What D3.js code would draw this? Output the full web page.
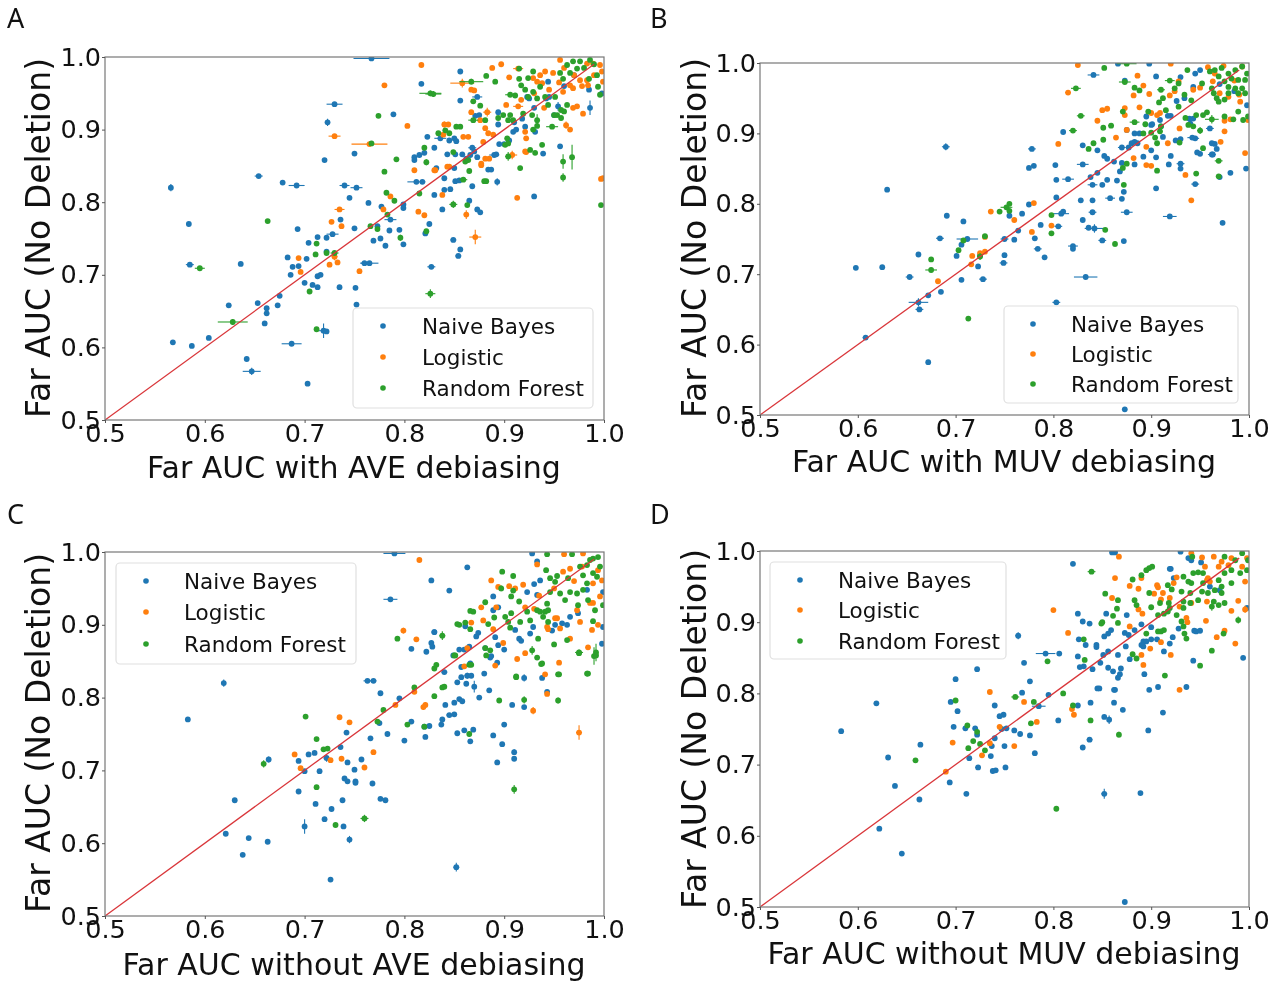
<!DOCTYPE html>
<html><head><meta charset="utf-8">
<script src="https://cdn.jsdelivr.net/npm/d3@7/dist/d3.min.js"></script>
<style>html,body{margin:0;padding:0;background:#fff}svg{display:block;filter:blur(0.4px)}text{font-family:"DejaVu Sans";fill:#111}</style>
</head><body><svg id="c" width="1283" height="985"></svg>
<script>
// each point: [x, y, xError, yError]
const categories = ["Naive Bayes","Logistic","Random Forest"];
const tickValues = [0.5,0.6,0.7,0.8,0.9,1.0];
const tickLabels = ["0.5","0.6","0.7","0.8","0.9","1.0"];
const diagonal = [0.5,0.99];

const aNaive = [[.767,.998,.018,0],[.856,.98],[.817,.963],[.73,.935,.008,.002],[.789,.921],[.723,.91,.002,.005],[.856,.94],[.873,.945,.005,.001],[.75,.867],[.72,.858],[.654,.836,.004,.001],[.678,.827],[.692,.823,.008,.001],[.566,.82,.002,.005],[.74,.823,.005,.003],[.752,.82,.006,.001],[.745,.806],[.584,.77],[.693,.763],[.736,.776],[.764,.799],[.777,.794],[.799,.797],[.799,.792],[.786,.776,.006,.003],[.785,.761],[.795,.762],[.75,.764],[.773,.767],[.776,.75],[.769,.747],[.781,.74],[.799,.742],[.821,.757],[.704,.744],[.713,.752],[.722,.751],[.728,.756,.006,.001],[.722,.732],[.683,.724],[.702,.722],[.694,.712],[.688,.711],[.636,.715],[.585,.714,.004,.001],[.76,.716,.004,.001],[.765,.716,.009,.003],[.7,.689],[.686,.7],[.713,.698],[.716,.7],[.708,.686],[.713,.683],[.735,.683],[.751,.682],[.675,.671],[.624,.658],[.653,.661],[.662,.654],[.662,.647],[.66,.633],[.673,.658],[.752,.659],[.719,.623,.005,.01],[.722,.622],[.568,.607],[.587,.602],[.604,.613],[.687,.605,.01,.002],[.642,.584],[.647,.567,.009,.005],[.703,.55],[.823,.89],[.83,.875],[.81,.862],[.815,.865],[.82,.868],[.81,.858],[.845,.885],[.85,.888],[.852,.884],[.843,.866],[.851,.866],[.858,.866],[.862,.86],[.866,.865],[.868,.875,.004,.002],[.873,.862],[.89,.865,.005,.001],[.884,.845],[.832,.847],[.84,.833],[.812,.828,.009,.001],[.818,.828],[.85,.847],[.851,.829],[.855,.83],[.868,.822],[.84,.817,.002,.003],[.846,.818],[.83,.81],[.893,.828,.002,.005],[.93,.808],[.865,.802],[.873,.79],[.876,.786],[.838,.79],[.825,.77],[.849,.748,.003,.001],[.856,.735],[.854,.726,.003,.002],[.827,.711,.004,.001],[.875,.92],[.871,.919],[.894,.924],[.894,.907],[.909,.897],[.912,.9],[.921,.904],[.923,.945],[.925,.943],[.944,.966],[.954,.932,.002,.006],[.986,.93,.002,.01],[.998,.95],[.945,.945],[.942,.943],[.931,.897],[.836,.888,.006,.001],[.87,.87],[.892,.866],[.939,.867],[.956,.877],[.887,.845],[.895,.88],[.9,.88],[.905,.885],[.918,.915],[.93,.93],[.96,.96],[.97,.975],[.985,.955],[.95,.92],[.91,.91]];
const aLogistic = [[.817,.989],[.78,.961],[.803,.905],[.73,.891,.006,.002],[.765,.88,.018,.001],[.858,.964,.012,.006],[.87,.954],[.84,.907,.002,.004],[.859,.89],[.913,.806],[.997,.832],[.845,.849],[.81,.844],[.83,.844],[.877,.851],[.885,.86],[.838,.81],[.779,.79],[.735,.79,.005,.003],[.727,.773],[.737,.767],[.862,.783,.002,.006],[.871,.752,.006,.01],[.814,.787],[.82,.782],[.696,.704],[.694,.723],[.73,.725,.003,.005],[.725,.714],[.733,.717],[.755,.705],[.786,.808],[.908,.865,.005,.006],[.922,.869],[.888,.985],[.897,.99],[.914,.984,.005,.002],[.905,.972],[.867,.955],[.883,.924,.004,.006],[.867,.924],[.902,.934],[.914,.932,.005,.002],[.917,.941],[.929,.971],[.936,.975],[.941,.98],[.933,.966],[.938,.964],[.949,.978],[.956,.996],[.983,.991],[.989,.991],[.983,.968],[.976,.968],[.969,.957],[.966,.961],[.959,.952],[.969,.93],[.973,.932],[.979,.922],[.998,.98],[.999,.966],[.996,.989],[.984,.961],[.962,.906,.002,.005],[.966,.9],[.921,.897],[.922,.888],[.876,.913],[.881,.902],[.884,.895],[.889,.893],[.864,.89],[.844,.907],[.839,.893],[.879,.883],[.921,.87],[.831,.844],[.843,.849],[.877,.853],[.881,.86],[.999,.833],[.93,.95],[.945,.955],[.955,.965],[.97,.975],[.978,.96],[.99,.975],[.96,.985],[.94,.93]];
const aForest = [[.867,.966,.012,.004],[.882,.974],[.891,.966],[.829,.949,.008,.004],[.915,.984],[.869,.939],[.876,.933],[.929,.98],[.915,.97],[.906,.948,.005,.001],[.911,.947],[.917,.961],[.924,.971],[.921,.955],[.929,.952],[.936,.959],[.924,.945],[.933,.943],[.941,.945],[.956,.978],[.963,.989],[.969,.994],[.973,.984],[.959,.97],[.966,.978],[.976,.994],[.986,.996],[.994,.959],[.993,.975],[.996,.948],[.957,.927],[.953,.92],[.963,.934],[.951,.945],[.944,.934],[.95,.92],[.957,.916],[.96,.925],[.948,.904,.006,.002],[.933,.913,.002,.008],[.928,.92],[.933,.905],[.929,.9],[.906,.92],[.904,.913],[.894,.916],[.909,.913],[.919,.922],[.899,.92],[.881,.913],[.869,.913,.005,.001],[.856,.904],[.841,.899],[.834,.895],[.903,.888],[.901,.879],[.904,.881],[.938,.879],[.926,.872],[.931,.868],[.916,.847],[.861,.856],[.864,.858],[.865,.843],[.859,.831,.004,.002],[.882,.829],[.959,.856,.002,.01],[.968,.862,.002,.017],[.959,.834,.002,.006],[.904,.863,.003,.006],[.849,.869],[.595,.709,.005,.002],[.663,.774],[.712,.743],[.711,.728],[.705,.677],[.628,.635,.015,.004],[.712,.625],[.826,.674,.005,.006],[.774,.919],[.767,.881],[.79,.802,.002,.002],[.782,.813],[.78,.842],[.792,.859],[.815,.812],[.82,.875],[.822,.855,.001,.004],[.826,.95,.011,.004],[.845,.895],[.852,.904],[.849,.797,.004,.005],[.863,.796],[.88,.829],[.796,.751,.002,.004],[.822,.76],[.766,.767],[.773,.763],[.783,.783],[.73,.73,.004,.003],[.722,.73],[.997,.796],[.98,.985],[.985,.97],[.99,.99]];

const bNaive = [[.69,.881,.004,.005],[.63,.82],[.778,.878,.004,.001],[.775,.851],[.78,.854],[.802,.855],[.803,.834],[.815,.835,.006,.001],[.803,.809],[.775,.799],[.768,.786],[.691,.783],[.708,.775],[.684,.751,.004,.001],[.712,.75,.011,.002],[.706,.742],[.701,.726],[.662,.728],[.598,.709],[.625,.71],[.653,.696,.004,.001],[.706,.692],[.728,.693,.004,.001],[.672,.67],[.685,.675],[.662,.66,.01,.006],[.663,.65,.004,.001],[.608,.61,.003,.001],[.672,.575],[.803,.66,.004,.001],[.833,.696,.012,.002],[.872,.747],[.873,.508],[.875,.788,.006,.001],[.919,.782,.007,.003],[.973,.773],[.842,.765,.01,.006],[.836,.766],[.85,.748,.004,.001],[.82,.74,.005,.001],[.82,.736],[.784,.736,.004,.001],[.791,.724],[.781,.751],[.76,.749],[.75,.75,.004,.001],[.75,.727],[.749,.716,.004,.001],[.725,.727],[.723,.711],[.764,.762],[.755,.783],[.787,.77],[.808,.786,.008,.003],[.81,.789],[.805,.768,.004,.001],[.84,.788,.004,.001],[.83,.777],[.828,.805],[.84,.805],[.858,.808,.005,.001],[.87,.807],[.872,.817],[.84,.827,.005,.001],[.85,.827],[.838,.838],[.845,.844],[.855,.834],[.865,.833],[.83,.856,.006,.001],[.868,.846],[.862,.86],[.87,.858],[.945,.828,.004,.001],[.905,.822],[.93,.85],[.93,.857,.004,.001],[.918,.856],[.92,.868],[.83,.883],[.845,.876],[.852,.868],[.855,.864],[.87,.88,.004,.001],[.877,.88],[.883,.856],[.886,.886],[.888,.9],[.875,.905],[.81,.902],[.981,.844],[.997,.85],[.97,.838],[.967,.878],[.963,.87],[.95,.871],[.965,.885],[.945,.893,.004,.001],[.9,.876],[.892,.867],[.905,.866],[.9,.912],[.91,.91],[.92,.925],[.912,.895],[.925,.89],[.93,.892],[.841,.983,.006,.001],[.873,.975],[.905,.981],[.93,.98],[.945,.985],[.95,.99],[.866,.999],[.898,.999],[.895,.924],[.901,.913],[.909,.919],[.917,.925],[.926,.946],[.934,.95],[.943,.966],[.883,.9],[.883,.888],[.88,.886],[.942,.894,.005,.001],[.962,.886],[.962,.87,.004,.001],[.947,.873],[.94,.914],[.939,.921],[.943,.921],[.96,.907,.004,.002],[.998,.94],[.97,.97],[.985,.96]];
const bLogistic = [[.825,.997],[.886,.982],[.92,.999],[.892,.968],[.898,.956],[.882,.954],[.924,.96],[.919,.954],[.928,.974],[.943,.962],[.958,.994],[.974,.996],[.963,.974],[.97,.957],[.979,.952],[.991,.945],[.993,.995],[.85,.933],[.855,.935],[.888,.937],[.873,.936],[.873,.926],[.845,.918],[.875,.905],[.864,.894],[.9,.929],[.906,.926],[.909,.929],[.975,.918],[.981,.92],[.929,.907],[.975,.903],[.971,.888],[.996,.872],[.895,.881],[.882,.865],[.895,.855],[.9,.854],[.935,.841],[.917,.886],[.941,.805],[.999,.919],[.815,.958,.003,.001],[.805,.885],[.736,.789],[.78,.801],[.76,.777],[.778,.76],[.798,.769],[.73,.753],[.725,.73],[.73,.732],[.717,.726],[.716,.714],[.682,.69],[.95,.965],[.965,.985],[.985,.975],[.99,.955]];
const bForest = [[.852,.993],[.875,.999,.01,.001],[.823,.964,.005,.001],[.873,.973,.006,.002],[.883,.965],[.888,.961],[.91,.962,.004,.001],[.919,.975,.005,.001],[.928,.971],[.937,.99],[.924,.964],[.908,.944],[.912,.95],[.915,.933],[.934,.955],[.941,.947],[.928,.938],[.952,.971],[.96,.988],[.965,.99],[.972,.993],[.979,.985],[.986,.99],[.993,.995],[.998,.985],[.996,.976],[.989,.976],[.982,.978],[.975,.974],[.969,.981],[.962,.964],[.969,.945],[.979,.957],[.989,.957],[.996,.957],[.986,.964],[.993,.964],[.979,.966],[.975,.948],[.967,.95],[.964,.957],[.883,.916,.005,.002],[.894,.913],[.892,.9],[.9,.901],[.909,.903],[.904,.894],[.906,.886],[.91,.91],[.929,.887],[.935,.922],[.938,.912],[.943,.91],[.95,.904,.003,.005],[.946,.926],[.953,.926],[.957,.93],[.962,.92,.007,.006],[.975,.924],[.984,.92],[.989,.931],[.994,.919],[.999,.924],[.859,.911,.003,.001],[.851,.908,.002,.002],[.851,.891],[.836,.878],[.841,.886],[.828,.925,.004,.001],[.871,.931],[.897,.931],[.953,.879],[.969,.861,.004,.001],[.969,.839],[.946,.843],[.906,.847],[.871,.851],[.875,.857],[.872,.827],[.853,.763],[.863,.743,.001,.004],[.798,.758],[.798,.784],[.755,.8],[.752,.795,.006,.002],[.755,.79],[.745,.789],[.73,.754],[.708,.748],[.703,.734],[.675,.721],[.675,.706,.006,.001],[.725,.725,.003,.005],[.713,.637],[.82,.904,.004,.001]];

const cNaive = [[.79,.998,.011,.001],[.863,.979],[.827,.961],[.845,.947],[.786,.935,.007,.001],[.619,.82,.002,.005],[.583,.77],[.807,.867],[.822,.863],[.827,.875],[.828,.87],[.83,.89],[.763,.823,.004,.001],[.769,.823,.003,.001],[.776,.806],[.795,.799],[.807,.767],[.8,.741],[.742,.752],[.783,.75],[.766,.744],[.736,.732],[.775,.765],[.704,.722],[.694,.713],[.71,.724],[.722,.717,.003,.005],[.664,.715,.002,.004],[.7,.699],[.715,.699],[.75,.701],[.743,.711],[.757,.715],[.74,.689],[.743,.685],[.751,.685],[.751,.683],[.768,.682],[.694,.671],[.711,.654],[.727,.647],[.738,.659],[.776,.661],[.781,.659],[.63,.659],[.72,.633],[.739,.623],[.7,.623,.001,.01],[.621,.613],[.644,.607],[.663,.602,.002,.001],[.745,.605,.001,.005],[.638,.584],[.852,.567,.003,.006],[.726,.55],[.82,.76],[.825,.761],[.837,.763],[.838,.77],[.845,.776,.003,.001],[.85,.777],[.821,.746],[.841,.79],[.853,.751],[.86,.755],[.866,.74],[.869,.756],[.889,.748],[.898,.736],[.9,.763],[.893,.711],[.91,.725,.002,.004],[.91,.716],[.84,.835,.003,.001],[.849,.858],[.855,.866],[.86,.866],[.865,.87],[.857,.842],[.866,.847],[.853,.821],[.857,.828],[.863,.83,.003,.004],[.867,.83],[.862,.819],[.87,.815,.001,.008],[.875,.8],[.885,.81],[.88,.833],[.85,.793],[.855,.798],[.858,.795],[.908,.79],[.92,.787],[.92,.827,.002,.005],[.938,.827],[.943,.808],[.886,.855],[.893,.848],[.889,.939],[.928,.998],[.933,.987],[.936,.961],[.93,.956],[.923,.945],[.933,.941],[.889,.92],[.894,.924],[.83,.89],[.874,.889],[.872,.884],[.861,.898],[.891,.883],[.915,.881],[.917,.878],[.911,.893],[.929,.897],[.926,.888],[.9,.866],[.894,.872],[.887,.857],[.881,.868],[.948,.892],[.951,.9],[.958,.902],[.966,.911],[.974,.916],[.983,.948],[.999,.945],[.998,.874],[.999,.897],[.963,.9]];
const cLogistic = [[.933,.983],[.887,.961],[.894,.952],[.905,.953],[.911,.95],[.919,.955],[.877,.924],[.892,.924],[.879,.906],[.867,.903],[.889,.894],[.899,.875],[.863,.868],[.86,.843],[.891,.844],[.913,.853],[.921,.861],[.921,.924],[.93,.922],[.943,.897],[.944,.894],[.953,.909],[.959,.973],[.966,.977],[.978,.98],[.989,.957],[.994,.975],[.979,.998],[.96,.997],[.998,.961],[.996,.939],[.989,.93],[.986,.93],[.973,.92],[.976,.904],[.988,.893],[.994,.9],[.956,.895],[.951,.909],[.966,.881],[.984,.869],[.955,.848],[.941,.832],[.815,.989],[.799,.892,.002,.004],[.812,.88],[.735,.773],[.745,.766],[.69,.722],[.696,.703],[.769,.725],[.76,.704],[.737,.716],[.726,.714],[.81,.808],[.819,.787,.001,.004],[.821,.79,.001,.004],[.791,.79],[.929,.782,.002,.005],[.975,.752,.003,.01],[.943,.805,.002,.002],[.935,.94],[.95,.95],[.97,.96]];
const cForest = [[.701,.774],[.712,.743],[.719,.729],[.723,.73],[.712,.677],[.659,.709,.002,.005],[.76,.634,.004,.005],[.731,.625],[.91,.674,.002,.006],[.793,.881,.002,.002],[.838,.885,.003,.006],[.779,.783],[.773,.767],[.803,.763],[.81,.814],[.83,.802],[.838,.814],[.82,.76],[.865,.75,.002,.004],[.895,.796,.002,.002],[.92,.797,.001,.005],[.954,.796,.001,.004],[.954,.832,.001,.003],[.983,.833,.001,.004],[.975,.862,.004,.004],[.99,.857,.001,.012],[.992,.862,.001,.012],[.938,.847,.001,.003],[.912,.828],[.85,.858],[.865,.845],[.83,.84],[.855,.9,.003,.002],[.898,.973],[.909,.967],[.897,.95,.001,.004],[.909,.947],[.907,.939],[.915,.932],[.881,.931],[.866,.919],[.869,.918],[.853,.901],[.861,.903],[.866,.894],[.89,.91],[.884,.901],[.901,.911],[.904,.904],[.907,.916],[.906,.896],[.916,.904],[.926,.906],[.923,.918],[.933,.92],[.936,.918],[.941,.918],[.944,.92],[.939,.911],[.944,.904],[.943,.929],[.946,.945],[.951,.959],[.946,.964],[.953,.967],[.964,.964],[.966,.945],[.956,.943],[.961,.934],[.973,.943],[.979,.948],[.984,.934],[.974,.927],[.983,.957],[.986,.989],[.989,.991],[.994,.993],[.983,.982],[.976,.98],[.996,.98],[.993,.966],[.989,.971],[.979,.968],[.943,.997],[.942,.975],[.968,.997],[.934,.881],[.928,.865,.001,.006],[.881,.868],[.886,.865],[.882,.858],[.851,.858,.002,.002],[.832,.845],[.867,.845],[.933,.855],[.937,.846],[.912,.829],[.955,.832],[.984,.833],[.963,.879],[.95,.873],[.989,.905],[.975,.861],[.992,.858],[.999,.927],[.991,.92],[.84,.815]];

const dNaive = [[.583,.747],[.619,.786],[.631,.71],[.638,.67],[.664,.728],[.663,.651,.002,.001],[.622,.61],[.645,.575],[.694,.675],[.711,.659],[.695,.788],[.7,.82],[.702,.775],[.698,.753],[.71,.751],[.72,.751],[.74,.783],[.722,.834],[.77,.843],[.776,.817],[.768,.801],[.795,.798],[.785,.782,.007,.003],[.745,.768],[.749,.77],[.747,.75],[.76,.748],[.766,.743],[.752,.751],[.776,.741],[.74,.737],[.737,.726],[.736,.712],[.75,.726],[.781,.716],[.714,.709],[.723,.696,.003,.002],[.738,.691],[.741,.692],[.751,.696],[.722,.742],[.764,.881,.003,.005],[.792,.856,.01,.002],[.806,.856,.002,.001],[.805,.762],[.825,.783],[.838,.787],[.83,.724],[.837,.735,.003,.001],[.852,.767],[.857,.763,.001,.006],[.871,.777],[.862,.787],[.863,.805],[.845,.807],[.852,.659,.003,.007],[.889,.66],[.873,.507],[.897,.748],[.912,.773],[.82,.982],[.86,.998],[.863,.998],[.92,.975],[.938,.99],[.93,.999],[.919,.975],[.923,.962],[.941,.987],[.951,.984],[.825,.912],[.83,.901],[.837,.898],[.875,.91],[.854,.912],[.89,.897],[.9,.893],[.883,.889],[.873,.885],[.877,.882],[.859,.889],[.856,.884],[.852,.88],[.826,.876],[.833,.868],[.844,.868],[.844,.865],[.856,.859],[.851,.854],[.874,.866],[.892,.873],[.895,.873],[.89,.868],[.892,.866],[.9,.876],[.906,.876],[.922,.879],[.919,.87],[.913,.859],[.928,.891],[.944,.888],[.946,.887],[.95,.888],[.943,.846],[.994,.85],[.825,.852],[.827,.837],[.831,.838],[.84,.834],[.848,.843],[.856,.836],[.866,.854],[.878,.848],[.869,.835],[.861,.831],[.868,.827],[.866,.822],[.893,.827],[.898,.805],[.907,.809],[.936,.809],[.847,.807],[.862,.805],[.96,.95],[.97,.945],[.998,.92]];
const dLogistic = [[.867,.992],[.863,.962],[.878,.951],[.887,.947],[.89,.962],[.906,.952],[.907,.949],[.903,.94],[.912,.941],[.91,.932],[.919,.934],[.923,.955],[.926,.963],[.941,.997],[.952,.991],[.955,.978],[.964,.992],[.972,.985],[.982,.99],[.998,.99],[.993,.978],[.996,.957],[.957,.959],[.958,.962],[.96,.957],[.969,.978],[.979,.98],[.86,.934],[.887,.918],[.891,.912],[.878,.894],[.91,.872],[.899,.863],[.89,.854],[.892,.84],[.92,.854],[.936,.906],[.937,.9],[.929,.922],[.956,.902],[.967,.879],[.975,.888],[.986,.87],[.989,.93],[.982,.916],[.996,.918,.001,.005],[.957,.929],[.941,.927],[.929,.805],[.735,.802],[.77,.788],[.783,.76],[.745,.753],[.697,.731],[.735,.73],[.727,.713],[.76,.726],[.69,.69],[.819,.778],[.821,.77],[.8,.917],[.815,.885]];
const dForest = [[.839,.971,.004,.001],[.881,.96],[.89,.966],[.895,.973],[.898,.976],[.901,.978],[.853,.94],[.866,.931],[.883,.931],[.885,.924],[.898,.941],[.865,.919],[.861,.909],[.85,.9],[.849,.898],[.866,.899],[.9,.921],[.909,.927],[.917,.952],[.921,.946],[.918,.927],[.919,.92],[.931,.943],[.933,.929],[.907,.91],[.913,.912],[.917,.915],[.926,.91],[.931,.901],[.933,.894],[.895,.884],[.907,.887],[.91,.887],[.913,.889],[.936,.877],[.934,.884],[.942,.992],[.943,.969],[.948,.97],[.953,.969],[.938,.957],[.933,.964],[.941,.955],[.953,.955],[.952,.943],[.94,.941],[.948,.931],[.94,.927],[.933,.92],[.962,.922,.002,.006],[.974,.884],[.989,.903,.001,.005],[.962,.86],[.95,.839],[.914,.825],[.831,.876],[.881,.855],[.885,.849],[.832,.847],[.965,.945],[.972,.95],[.982,.955],[.993,.997],[.999,.987],[.975,.992],[.986,.987],[.998,.973],[.991,.969],[.982,.973],[.975,.969],[.969,.959],[.972,.941],[.958,.941],[.975,.927],[.969,.924],[.964,.929],[.7,.79],[.761,.795,.004,.002],[.78,.788],[.81,.8],[.712,.755],[.722,.746],[.718,.733],[.725,.729],[.713,.723],[.73,.72],[.777,.758],[.659,.706],[.803,.638],[.794,.845],[.867,.742,.001,.004],[.82,.783],[.838,.762]];

const colors = ["#1f77b4","#ff7f0e","#2ca02c"];
const panels = [
 {letter:"A",lx:7,ly:28,left:105,right:604,top:57,bottom:420,xlabel:"Far AUC with AVE debiasing",xcx:354,xby:478,ylx:50,yc:238,series:[aNaive,aLogistic,aForest],
  box:[353,308,240,100],mx:383,my:[326,357,388],tx:422},
 {letter:"B",lx:650,ly:28,left:760,right:1249,top:63,bottom:415,xlabel:"Far AUC with MUV debiasing",xcx:1004,xby:472,ylx:706,yc:238,series:[bNaive,bLogistic,bForest],
  box:[1004,306,234,97],mx:1033,my:[324,354,384],tx:1071},
 {letter:"C",lx:7,ly:524,left:105,right:604,top:552,bottom:916,xlabel:"Far AUC without AVE debiasing",xcx:354,xby:975,ylx:50,yc:733,series:[cNaive,cLogistic,cForest],
  box:[116,563,240,101],mx:146,my:[581,612,644],tx:184},
 {letter:"D",lx:650,ly:524,left:760,right:1249,top:551,bottom:907,xlabel:"Far AUC without MUV debiasing",xcx:1004,xby:964,ylx:706,yc:729,series:[dNaive,dLogistic,dForest],
  box:[770,562,236,97],mx:800,my:[580,610,641],tx:838}
];

const svg = d3.select("#c");
panels.forEach((p,pi)=>{
  const x = d3.scaleLinear().domain([0.5,1]).range([p.left,p.right]);
  const y = d3.scaleLinear().domain([0.5,1]).range([p.bottom,p.top]);
  const g = svg.append("g");
  const clipId = "clip"+pi;
  g.append("clipPath").attr("id",clipId).append("rect")
    .attr("x",p.left).attr("y",p.top).attr("width",p.right-p.left).attr("height",p.bottom-p.top);
  const plot = g.append("g").attr("clip-path",`url(#${clipId})`);
  p.series.forEach((s,si)=>{
    const c = plot.append("g");
    c.selectAll("line.xe").data(s.filter(d=>d[2])).enter().append("line").attr("class","xe")
      .attr("x1",d=>x(d[0]-d[2])).attr("x2",d=>x(d[0]+d[2])).attr("y1",d=>y(d[1])).attr("y2",d=>y(d[1]))
      .attr("stroke",colors[si]).attr("stroke-width",1.1);
    c.selectAll("line.ye").data(s.filter(d=>d[3])).enter().append("line").attr("class","ye")
      .attr("x1",d=>x(d[0])).attr("x2",d=>x(d[0])).attr("y1",d=>y(d[1]-d[3])).attr("y2",d=>y(d[1]+d[3]))
      .attr("stroke",colors[si]).attr("stroke-width",1.1);
    c.selectAll("circle").data(s).enter().append("circle")
      .attr("cx",d=>x(d[0])).attr("cy",d=>y(d[1])).attr("r",2.9).attr("fill",colors[si]);
  });
  plot.append("path").datum(diagonal)
    .attr("d",d3.line().x(d=>x(d)).y(d=>y(d))).attr("fill","none").attr("stroke","#d9363a").attr("stroke-width",1.3);
  g.append("rect").attr("x",p.left).attr("y",p.top).attr("width",p.right-p.left).attr("height",p.bottom-p.top)
    .attr("fill","none").attr("stroke","#777").attr("stroke-width",1.2);
  const fmt = (d,i)=>tickLabels[i];
  const xa = g.append("g").attr("transform",`translate(0,${p.bottom})`)
    .call(d3.axisBottom(x).tickValues(tickValues).tickFormat(fmt).tickSize(3).tickPadding(1));
  const ya = g.append("g").attr("transform",`translate(${p.left},0)`)
    .call(d3.axisLeft(y).tickValues(tickValues).tickFormat(fmt).tickSize(3).tickPadding(1));
  [xa,ya].forEach(a=>{
    a.select(".domain").remove();
    a.selectAll("line").attr("stroke","#555");
    a.selectAll("text").attr("font-size",25.5).style("font-family",'"DejaVu Sans"').style("fill","#111");
  });
  g.append("text").text(p.xlabel).attr("x",p.xcx).attr("y",p.xby).attr("text-anchor","middle").attr("font-size",30);
  g.append("text").text("Far AUC (No Deletion)").attr("text-anchor","middle").attr("font-size",33)
    .attr("transform",`translate(${p.ylx},${p.yc}) rotate(-90)`);
  g.append("text").text(p.letter).attr("x",p.lx).attr("y",p.ly).attr("font-size",27).style("font-family",'"Noto Sans"');
  const [bx,by,bw,bh] = p.box;
  g.append("rect").attr("x",bx).attr("y",by).attr("width",bw).attr("height",bh).attr("rx",4)
    .attr("fill","#fff").attr("fill-opacity",.8).attr("stroke","#e0e0e0").attr("stroke-width",1.2);
  categories.forEach((name,i)=>{
    g.append("circle").attr("cx",p.mx).attr("cy",p.my[i]).attr("r",2.8).attr("fill",colors[i]);
    g.append("text").text(name).attr("x",p.tx).attr("y",p.my[i]+7.5).attr("font-size",21.5);
  });
});
</script></body></html>
